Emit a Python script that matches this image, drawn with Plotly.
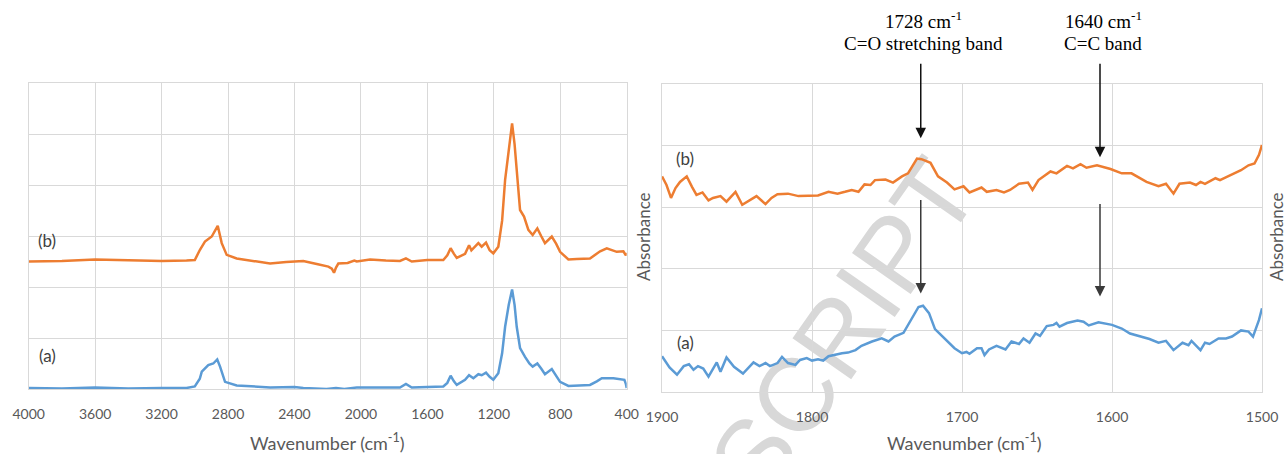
import plotly.graph_objects as go

# ---------------- data: full spectrum (left panel) ----------------
wn_full = [4000, 3800, 3600, 3400, 3200, 3050, 3000, 2969, 2939, 2898, 2862, 2838, 2808,
           2748, 2627, 2547, 2450, 2347, 2266, 2196, 2175, 2162, 2150, 2136, 2080, 2040,
           2025, 1945, 1850, 1765, 1729, 1694, 1600, 1504, 1480, 1460, 1440, 1423, 1373,
           1349, 1335, 1293, 1273, 1247, 1225, 1203, 1173, 1150, 1132, 1110, 1090, 1075,
           1062, 1042, 1018, 992, 966, 938, 915, 892, 851, 825, 801, 751, 700, 621, 560,
           520, 460, 420, 405, 400]
abs_b_full = [2.50, 2.51, 2.54, 2.52, 2.51, 2.52, 2.53, 2.73, 2.89, 2.99, 3.20, 2.86, 2.63,
              2.56, 2.50, 2.46, 2.49, 2.51, 2.45, 2.40, 2.36, 2.28, 2.38, 2.46, 2.47, 2.52,
              2.50, 2.54, 2.52, 2.51, 2.56, 2.50, 2.53, 2.53, 2.62, 2.76, 2.65, 2.57, 2.65,
              2.82, 2.72, 2.86, 2.79, 2.87, 2.72, 2.66, 2.79, 3.30, 4.10, 4.70, 5.21, 4.80,
              4.23, 3.51, 3.38, 3.12, 3.02, 3.15, 3.00, 2.86, 2.99, 2.85, 2.69, 2.54, 2.55,
              2.56, 2.70, 2.76, 2.69, 2.70, 2.62, 2.67]
wn_full_a = [4000, 3800, 3600, 3400, 3200, 3050, 3000, 2970, 2958, 2919, 2889, 2865, 2848,
             2818, 2748, 2547, 2400, 2347, 2207, 2150, 2100, 2025, 1765, 1729, 1694, 1504,
             1480, 1460, 1440, 1423, 1373, 1349, 1323, 1293, 1273, 1247, 1225, 1203, 1173,
             1150, 1132, 1110, 1090, 1075, 1062, 1042, 1012, 986, 966, 938, 915, 892, 851,
             825, 801, 751, 671, 621, 580, 550, 480, 414, 405, 400]
abs_a_full = [0.02, 0.01, 0.03, 0.01, 0.02, 0.02, 0.05, 0.20, 0.34, 0.47, 0.50, 0.58, 0.44,
              0.14, 0.07, 0.03, 0.04, 0.02, 0.00, 0.02, 0.00, 0.03, 0.03, 0.10, 0.03, 0.05,
              0.12, 0.26, 0.15, 0.08, 0.18, 0.27, 0.21, 0.29, 0.27, 0.32, 0.24, 0.18, 0.31,
              0.70, 1.22, 1.65, 1.95, 1.65, 1.22, 0.80, 0.63, 0.50, 0.44, 0.50, 0.40, 0.29, 0.39,
              0.25, 0.14, 0.06, 0.08, 0.08, 0.15, 0.21, 0.21, 0.18, 0.10, 0.02]

# ---------------- data: zoomed region (right panel) ----------------
wn_zoom_b = [1900, 1897, 1894, 1891, 1888, 1883.5, 1880, 1877, 1873, 1869, 1866, 1861, 1857,
             1851, 1846.5, 1840, 1837, 1831, 1827, 1823, 1816, 1809, 1801, 1796, 1789, 1783,
             1778, 1773.5, 1769, 1765, 1761, 1758, 1751, 1746, 1740, 1736, 1730, 1727, 1721,
             1716, 1710, 1705, 1699, 1695, 1687, 1683.5, 1677, 1672, 1668, 1662, 1656, 1653,
             1649, 1641, 1637, 1630, 1626, 1621, 1617, 1610, 1601, 1593.5, 1587, 1577, 1569,
             1564, 1559, 1555, 1548, 1544, 1541, 1538, 1531, 1528, 1521, 1514, 1509, 1505,
             1502, 1500]
abs_b_zoom = [3.50, 3.36, 3.15, 3.31, 3.41, 3.50, 3.33, 3.20, 3.24, 3.11, 3.15, 3.18, 3.09,
              3.25, 3.04, 3.14, 3.18, 3.05, 3.15, 3.21, 3.22, 3.18, 3.18, 3.19, 3.25, 3.22,
              3.25, 3.28, 3.25, 3.37, 3.36, 3.44, 3.45, 3.40, 3.50, 3.55, 3.79, 3.78, 3.72,
              3.50, 3.40, 3.29, 3.34, 3.24, 3.32, 3.25, 3.28, 3.24, 3.28, 3.38, 3.40, 3.28,
              3.44, 3.58, 3.55, 3.67, 3.63, 3.70, 3.64, 3.68, 3.62, 3.55, 3.55, 3.41, 3.34,
              3.38, 3.22, 3.38, 3.40, 3.36, 3.41, 3.38, 3.47, 3.44, 3.52, 3.60, 3.68, 3.71,
              3.85, 4.01]
wn_zoom_a = [1900, 1895, 1890, 1885.5, 1882, 1879, 1876, 1872.5, 1869, 1863.5, 1861, 1857,
             1852, 1846, 1839, 1835, 1831, 1828, 1823, 1820, 1816, 1811, 1808, 1803.5, 1800,
             1796, 1792.5, 1789, 1780, 1776, 1771, 1767, 1760, 1753.5, 1749, 1745, 1739, 1734,
             1729, 1726, 1722, 1718, 1711, 1705, 1700, 1697, 1695, 1690, 1687, 1685, 1682,
             1677, 1671, 1667, 1662, 1659, 1655, 1651, 1648, 1643.5, 1639, 1637, 1635, 1630,
             1623, 1619, 1615.5, 1609, 1600, 1593.5, 1588, 1581, 1575, 1569, 1564, 1559, 1553,
             1549, 1547, 1541, 1538, 1535, 1529, 1524, 1520, 1514, 1509, 1506, 1502, 1500]
abs_a_zoom = [0.58, 0.40, 0.28, 0.42, 0.45, 0.36, 0.42, 0.38, 0.25, 0.48, 0.33, 0.56, 0.41,
              0.30, 0.48, 0.42, 0.47, 0.42, 0.47, 0.57, 0.47, 0.44, 0.52, 0.55, 0.51, 0.53,
              0.51, 0.58, 0.63, 0.64, 0.68, 0.75, 0.82, 0.87, 0.82, 0.90, 0.96, 1.17, 1.38,
              1.40, 1.28, 1.02, 0.86, 0.71, 0.63, 0.65, 0.62, 0.71, 0.71, 0.60, 0.69, 0.75,
              0.69, 0.82, 0.78, 0.87, 0.80, 0.95, 0.91, 1.07, 1.09, 1.12, 1.06, 1.12, 1.16,
              1.14, 1.08, 1.13, 1.09, 1.03, 0.95, 0.90, 0.86, 0.80, 0.83, 0.68, 0.80, 0.76,
              0.83, 0.68, 0.80, 0.78, 0.87, 0.87, 0.90, 1.00, 0.98, 0.90, 1.17, 1.36]

full_ticks = [4000, 3600, 3200, 2800, 2400, 2000, 1600, 1200, 800, 400]
zoom_ticks = [1900, 1800, 1700, 1600, 1500]
series_labels = ["(a)", "(b)"]
band_labels = [("1728 cm<sup>-1</sup>", "C=O stretching band"), ("1640 cm<sup>-1</sup>", "C=C band")]
arrow_x = [1727.5, 1608]
arrow_tip_b = [4.12, 3.81]
arrow_tip_a = [1.60, 1.55]

ORANGE = "#ED7D31"
BLUE = "#5B9BD5"
GRID = "#d9d9d9"
TXT = "#595959"
W, H = 1285, 454

def px(x):
    return x / W

def py(y):
    return 1 - y / H

fig = go.Figure()
fig.add_trace(go.Scatter(x=wn_full, y=abs_b_full, mode="lines", line=dict(color=ORANGE, width=2.5),
                         xaxis="x", yaxis="y", showlegend=False))
fig.add_trace(go.Scatter(x=wn_full_a, y=abs_a_full, mode="lines", line=dict(color=BLUE, width=2.5),
                         xaxis="x", yaxis="y", showlegend=False))
fig.add_trace(go.Scatter(x=wn_zoom_b, y=abs_b_zoom, mode="lines", line=dict(color=ORANGE, width=2.5),
                         xaxis="x2", yaxis="y2", showlegend=False))
fig.add_trace(go.Scatter(x=wn_zoom_a, y=abs_a_zoom, mode="lines", line=dict(color=BLUE, width=2.5),
                         xaxis="x2", yaxis="y2", showlegend=False))

axis_common = dict(showgrid=True, gridcolor=GRID, gridwidth=1, zeroline=False, automargin=False,
                   showline=True, mirror=True, linecolor=GRID, linewidth=1,
                   tickfont=dict(family="Lato", size=14, color=TXT))
fig.update_layout(
    width=W, height=H,
    margin=dict(l=0, r=0, t=0, b=0, pad=0, autoexpand=False),
    paper_bgcolor="white",
    plot_bgcolor="rgba(0,0,0,0)",
    xaxis=dict(domain=[px(28.7), px(626.7)], range=[4000, 400], tickmode="array",
               tickvals=full_ticks, ticks="", ticklabelstandoff=12, anchor="y", **axis_common),
    yaxis=dict(domain=[py(389), py(83)], range=[0, 6], dtick=1, showticklabels=False,
               anchor="x", **axis_common),
    xaxis2=dict(domain=[px(662), px(1262)], range=[1900, 1500], tickmode="array",
                tickvals=zoom_ticks, ticks="", ticklabelstandoff=12, anchor="y2", **axis_common),
    yaxis2=dict(domain=[py(392), py(84)], range=[0, 5], dtick=1, showticklabels=False,
                anchor="x2", **axis_common),
)

# watermark behind traces
fig.add_shape(type="rect", xref="paper", yref="paper",
              x0=px(815), x1=px(855), y0=py(342), y1=py(302),
              line=dict(width=0, color="rgba(0,0,0,0)"), fillcolor="rgba(0,0,0,0)",
              layer="below",
              label=dict(text="SCRIPT", textangle=-55, textposition="middle center",
                         font=dict(family="Liberation Sans", size=104, color="#d8d8d8")))

ann = []
def txt(x, y, text, font, angle=0):
    ann.append(dict(x=px(x), y=py(y), xref="paper", yref="paper", showarrow=False,
                    xanchor="center", yanchor="middle", text=text, font=font, textangle=angle))

title_font = dict(family="Lato", size=18, color=TXT)
for cx in (327, 964):
    txt(cx, 442, "Wavenumber (cm<sup>-1</sup>)", title_font)
for cx in (644, 1277):
    txt(cx, 237, "Absorbance", dict(family="Lato", size=17, color=TXT), -90)
lab_font = dict(family="Lato", size=17, color="#404040")
lab_pos = [((47, 355), (47, 240)), ((685, 342), (685, 158))]
for (pa, pb) in lab_pos:
    for lab, (lx, ly) in zip(series_labels, (pa, pb)):
        txt(lx, ly, lab, lab_font)
band_font = dict(family="Liberation Serif", size=19, color="black")
for (l1, l2), cx in zip(band_labels, (923, 1103)):
    txt(cx, 20, l1, band_font)
    txt(cx, 44, l2, band_font)
# arrows
for xa, tb, ta, ayb, aya in zip(arrow_x, arrow_tip_b, arrow_tip_a, (-76, -95), (-95, -94)):
    ann.append(dict(x=xa, y=tb, xref="x2", yref="y2", ax=0, ay=ayb, text="",
                    showarrow=True, arrowhead=2, arrowsize=1.4, arrowwidth=1.5, arrowcolor="#111111"))
    ann.append(dict(x=xa, y=ta, xref="x2", yref="y2", ax=0, ay=aya, text="",
                    showarrow=True, arrowhead=2, arrowsize=1.4, arrowwidth=1.5, arrowcolor="#3a3a3a"))
fig.update_layout(annotations=ann)

fig.write_html("out.html", config={"displayModeBar": False},
               post_script="document.body.style.margin='0';document.body.style.overflow='hidden';")
